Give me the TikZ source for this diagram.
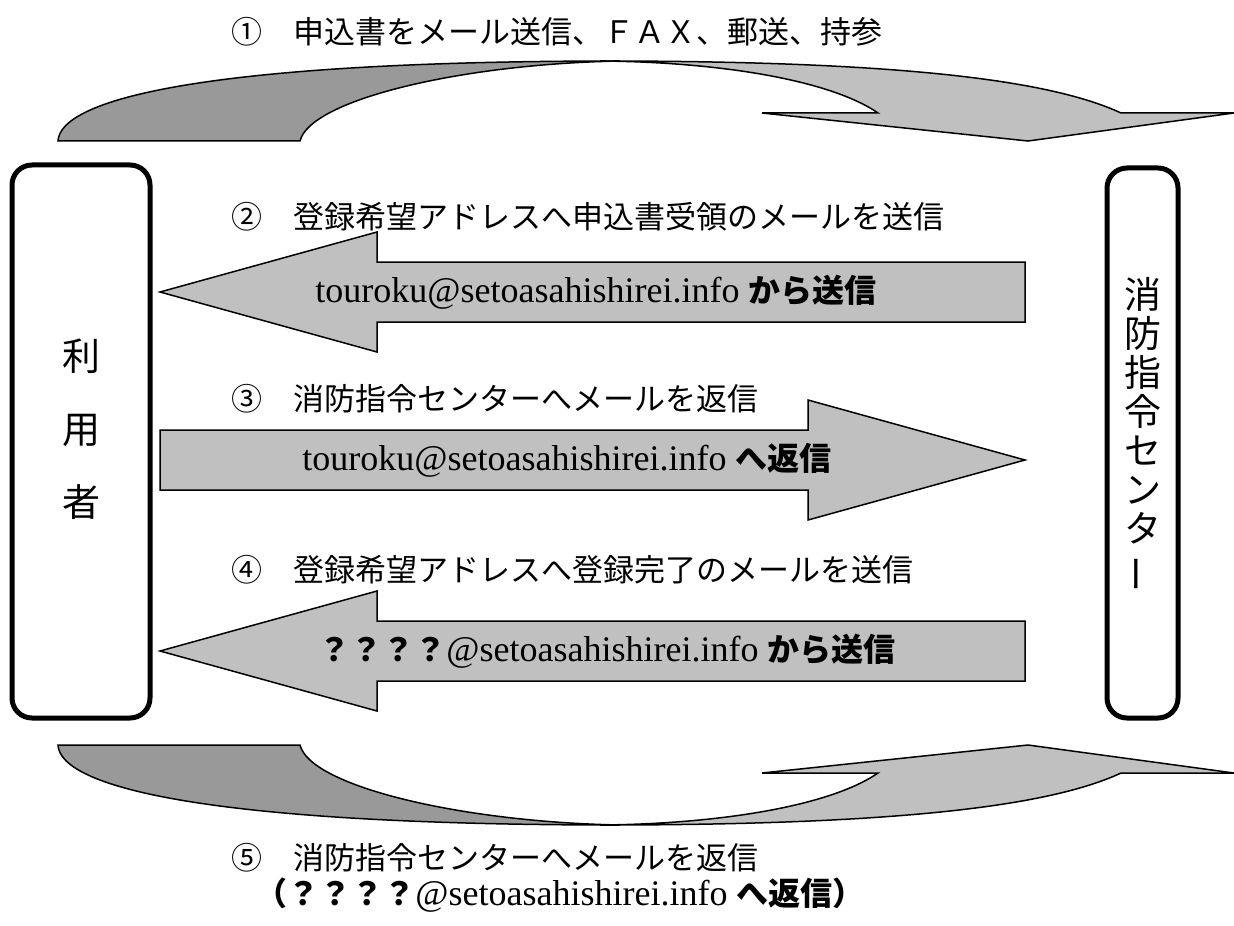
\documentclass[tikz,border=0pt]{standalone}
\usepackage{fontspec}
\setmainfont{Liberation Serif}
\newfontfamily\jpfont{Noto Sans CJK JP}
\usetikzlibrary{positioning}
\definecolor{arrowlight}{HTML}{C0C0C0}
\definecolor{arrowdark}{HTML}{999999}
\newcommand\jpbold[1]{{\jpfont\bfseries\fontsize{16}{20}\selectfont #1}}
\def\arrowleft(#1){\draw[blockarrow] (160,#1) -- (377,{#1-60}) -- (377,{#1-30}) -- (1025,{#1-30}) -- (1025,{#1+30}) -- (377,{#1+30}) -- (377,{#1+60}) -- cycle;}
\def\arrowright(#1){\draw[blockarrow] (1025,#1) -- (808,{#1-60}) -- (808,{#1-30}) -- (160,{#1-30}) -- (160,{#1+30}) -- (808,{#1+30}) -- (808,{#1+60}) -- cycle;}
\def\curvedarrow{%
  \draw[blockarrow, fill=arrowdark] (58,141) .. controls (60,100) and (200,61) .. (620,61) .. controls (460,64) and (310,100) .. (300,141) -- cycle;
  \draw[blockarrow] (600,61) .. controls (900,61) and (1050,80) .. (1121,113) -- (1234,113) -- (1028,141) -- (762,113) -- (878,113) .. controls (830,80) and (720,62) .. (600,61) -- cycle;}
\tikzset{
  blockarrow/.style={draw=black, line width=0.75pt, fill=arrowlight, line join=miter},
  partybox/.style={draw=black, line width=2.5pt, rounded corners=10pt, inner sep=0pt},
  partyname/.style={align=center, inner sep=0pt},
  heading/.style={anchor=west, inner sep=0pt, font=\jpfont\fontsize{15.5}{18}\selectfont},
  arrowtext/.style={anchor=west, inner sep=0pt, font=\fontsize{18}{20}\selectfont}
}
\begin{document}
\begin{tikzpicture}[x=0.5pt, y=-0.5pt]
		%%%%% START %%%%%
		\useasboundingbox (0,0) rectangle (1234,925);
		
		\node[heading] (step1) at (231,32) {①　申込書をメール送信、ＦＡＸ、郵送、持参};
		\curvedarrow
		
		\node[partybox, minimum width=69pt, minimum height=276.5pt] (user) at (81,441.5) {};
		\node[partyname, font=\jpfont\fontsize{19}{36.5}\selectfont] (username) at ([yshift=6pt]user.center) {利\\用\\者};
		\node[partybox, minimum width=35.5pt, minimum height=275pt] (center) at (1142.5,443) {};
		\node[partyname, font=\jpfont\fontsize{18.5}{19.5}\selectfont] (centername) at ([yshift=4pt]center.center) {消\\防\\指\\令\\セ\\ン\\タ\\\rotatebox[origin=c]{90}{ー}};
		
		\node[heading] (step2) at (231,217) {②　登録希望アドレスへ申込書受領のメールを送信};
		\arrowleft(292)
		\node[arrowtext] (mail2) at (315,292) {touroku@setoasahishirei.info \jpbold{から送信}};
		
		\node[heading] (step3) at (231,399) {③　消防指令センターへメールを返信};
		\arrowright(460)
		\node[arrowtext] (mail3) at (302,460) {touroku@setoasahishirei.info \jpbold{へ返信}};
		
		\node[heading] (step4) at (231,570) {④　登録希望アドレスへ登録完了のメールを送信};
		\arrowleft(651)
		\node[arrowtext] (mail4) at (318,651) {\jpbold{？？？？}@setoasahishirei.info \jpbold{から送信}};
		
		\begin{scope}[shift={(0,886)}, yscale=-1]
			\curvedarrow
		\end{scope}
		\node[heading] (step5) at (231,858) {⑤　消防指令センターへメールを返信};
		\node[arrowtext] (mail5) at (255,895) {\jpbold{（？？？？}@setoasahishirei.info \jpbold{へ返信）}};
		%%%%% END %%%%%
\end{tikzpicture}
\end{document}
